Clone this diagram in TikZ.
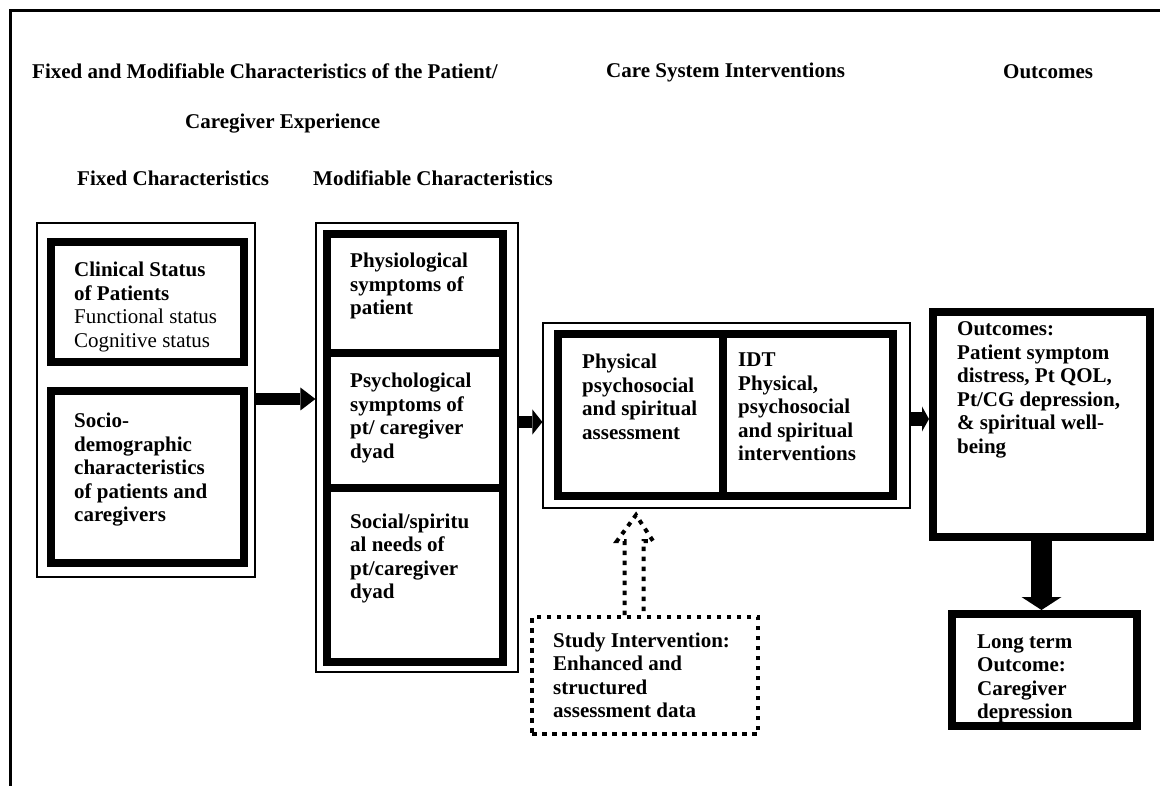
\documentclass[tikz,border=0pt]{standalone}
\usepackage{fontspec}
\setmainfont{Liberation Serif}
\usetikzlibrary{arrows.meta}
\newcommand\tb[1]{\begin{tabular}[t]{@{}l@{}}#1\end{tabular}}
\begin{document}
\begin{tikzpicture}[x=1pt,y=-1pt,
  txt/.style={inner sep=0pt, anchor=base west, font=\fontsize{21}{23.5}\selectfont\bfseries},
  thinbox/.style={draw, line width=1.2pt, inner sep=0pt},
  thickbox/.style={draw, line width=8pt, inner sep=0pt},
  dotbox/.style={draw, line width=4pt, dash pattern=on 4.5pt off 5.5pt, inner sep=0pt},
  dotline/.style={line width=4pt, dash pattern=on 4.5pt off 5.5pt},
  frameline/.style={line width=3pt},
]
\useasboundingbox (0,0) rectangle (1160,786);
% outer frame
\draw[frameline] (10,786) -- (10,11) -- (1160,11);

% titles
\node[txt] (t1) at (32,79) {Fixed and Modifiable Characteristics of the Patient/};
\node[txt] (t2) at (185,129) {Caregiver Experience};
\node[txt] (t3) at (77,186) {Fixed Characteristics};
\node[txt] (t4) at (313,186) {Modifiable Characteristics};
\node[txt] (t5) at (606,78) {Care System Interventions};
\node[txt] (t6) at (1003,79) {Outcomes};

% left column
\node[thinbox, minimum width=218pt, minimum height=354pt] (fixbox) at (146,400) {};
\node[thickbox, minimum width=193pt, minimum height=120pt] (clinbox) at (147.5,302) {};
\node[thickbox, minimum width=193pt, minimum height=172pt] (sociobox) at (147.5,477) {};

% middle column
\node[thinbox, minimum width=202pt, minimum height=449pt] (midbox) at (417,447.5) {};
\node[thickbox, minimum width=176pt, minimum height=119pt] (physbox) at (415,293.5) {};
\node[thickbox, minimum width=176pt, minimum height=135pt] (psychbox) at (415,420.5) {};
\node[thickbox, minimum width=176pt, minimum height=174pt] (socbox) at (415,575) {};

% care system
\node[thinbox, minimum width=367pt, minimum height=185pt] (assessouter) at (726.5,415.5) {};
\node[thickbox, minimum width=165.5pt, minimum height=162pt] (assessL) at (640.25,415) {};
\node[thickbox, minimum width=169.5pt, minimum height=162pt] (assessR) at (807.75,415) {};

% outcomes
\node[thickbox, minimum width=217pt, minimum height=225pt] (outbox) at (1041.5,424.5) {};
\node[thickbox, minimum width=185pt, minimum height=112pt] (ltbox) at (1044.5,670) {};

% study intervention
\node[dotbox, minimum width=226pt, minimum height=117pt] (study) at (645,675.5) {};

% box texts
\node[txt] (clin) at (74,277) {\tb{Clinical Status\\ of Patients\\ \mdseries Functional status\\ \mdseries Cognitive status}};
\node[txt] (socio) at (74,428) {\tb{Socio-\\ demographic\\ characteristics\\ of patients and\\ caregivers}};
\node[txt] (physio) at (350,268) {\tb{Physiological\\ symptoms of\\ patient}};
\node[txt] (psych) at (350,388) {\tb{Psychological\\ symptoms of\\ pt/ caregiver\\ dyad}};
\node[txt] (social) at (350,528) {\tb{Social/spiritu\\ al needs of\\ pt/caregiver\\ dyad}};
\node[txt] (assess) at (582,369) {\tb{Physical\\ psychosocial\\ and spiritual\\ assessment}};
\node[txt] (idt) at (738,367) {\tb{IDT\\ Physical,\\ psychosocial\\ and spiritual\\ interventions}};
\node[txt] (outtxt) at (957,336) {\tb{Outcomes:\\ Patient symptom\\ distress, Pt QOL,\\ Pt/CG depression,\\ \& spiritual well-\\ being}};
\node[txt] (lttxt) at (977,648) {\tb{Long term\\ Outcome:\\ Caregiver\\ depression}};
\node[txt] (studytxt) at (553,647) {\tb{Study Intervention:\\ Enhanced and\\ structured\\ assessment data}};

% connectors
\coordinate (a1) at ([yshift=1pt]fixbox.east);
\draw[line width=12pt, -{Triangle[length=15pt,width=23pt,line width=0pt]}] (a1) -- (a1 -| midbox.west);
\coordinate (a2) at ([yshift=-6.5pt]assessouter.west);
\draw[line width=12pt, -{Triangle[length=10pt,width=25pt,line width=0pt]}] (midbox.east |- a2) -- (a2);
\coordinate (a3) at ([yshift=5.5pt]outbox.west);
\draw[line width=13pt, -{Triangle[length=7pt,width=25pt,line width=0pt]}] (assessouter.east |- a3) -- (a3);
\draw[line width=21pt, -{Triangle[length=13pt,width=40pt,line width=0pt]}] (outbox.south) -- (outbox.south |- ltbox.north);
\coordinate (da) at ([xshift=-11pt]study.north);
\draw[dotline] ([xshift=-9.5pt]da) -- ++(0,-74) -- ++(-7.5,0) -- ++(19,-26) -- ++(17,26) -- ++(-9.5,0) -- ++(0,74);
\end{tikzpicture}
\end{document}
